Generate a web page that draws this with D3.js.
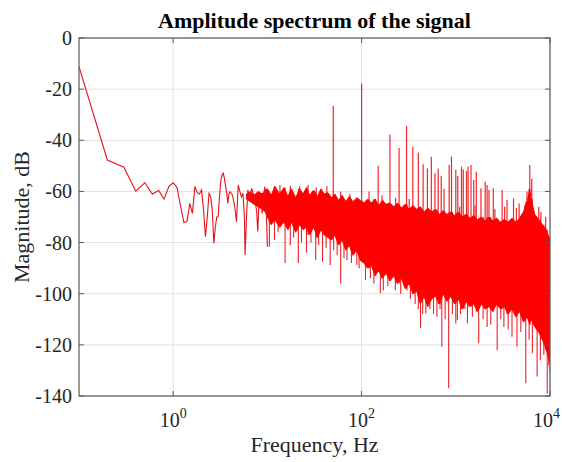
<!DOCTYPE html>
<html><head><meta charset="utf-8">
<script src="https://cdn.jsdelivr.net/npm/d3@7"></script>
<style>
body{margin:0;background:#fff}
svg text{font-family:"Liberation Serif","Times New Roman",serif;fill:#262626}
</style>
</head><body>
<svg id="c" width="562" height="462"></svg>
<script>
// ---------- data ----------
const titleText = "Amplitude spectrum of the signal";
const xLabel = "Frequency, Hz";
const yLabel = "Magnitude, dB";
const xTickValues = [1, 100, 10000];
const xTickExponents = ["0", "2", "4"];
const yTickValues = [0, -20, -40, -60, -80, -100, -120, -140];

// low-frequency part, individual line
const lowFreq = [0.1,0.2,0.3,0.4,0.5,0.6,0.7,0.8,0.9,1.0,1.1,1.2,1.3,1.4,1.5,1.6,1.7,1.8,1.9,2.0,
  2.1,2.2,2.3,2.4,2.5,2.6,2.7,2.8,2.9,3.0,3.1,3.2,3.3,3.4,3.5,3.6,3.7,3.8,3.9,4.0,4.2,4.3,4.5,4.7,4.9,
  5.1,5.3,5.5,5.7,5.8,6.0,6.2,6.5,6.8,7.1,7.4,7.7,7.9,8.1,8.4,8.6,8.8,9.1,9.4,9.7,10];
const lowMag = [-11.2,-47.7,-50.5,-59.9,-56.6,-61,-59.6,-63,-58,-56.6,-58.5,-66,-72.2,-71.8,-64.7,-68.6,-58.1,-60.5,-61,-59.4,
  -67.3,-77.7,-70,-60.7,-62,-67.3,-80.3,-74,-70,-69.9,-62,-56,-53.5,-52.9,-55,-58,-60.7,-64.7,-61,-60.1,-61,-62.1,-66,-71.8,-57.5,
  -60,-62.1,-60.7,-70,-84.9,-70,-59.4,-63.4,-58.8,-61,-63.4,-68,-75.7,-66,-60.7,-64,-68.6,-62,-58.1,-66,-81.6];

// dense noise band: upper and lower edge of the solid region
const bandFreq = [6,6.6,7.2,8,8.8,9.5,10,11,12,13.5,15,16.5,18,20,22,24,26,28,31,34,37,40,44,48,52,57,62,68,74,81,89,97,
  106,116,127,139,152,166,182,200,220,240,265,290,320,350,385,420,460,505,555,610,670,735,805,885,970,
  1065,1170,1285,1410,1550,1700,1870,2050,2250,2470,2710,2980,3270,3590,3940,4330,4750,5220,5730,6100,6300,
  6900,7580,8320,9140,10000];
const bandTop = [-61,-60,-61.5,-60,-61,-59.5,-59,-61.5,-58,-61,-58.5,-62,-59,-62.5,-59,-61,-58.5,-61.5,-59.5,-62,-59,-61,-60.5,-62.5,-61,-63.5,-61.5,-64,-62,-64,-62.5,-63.5,
  -64.5,-63,-64.5,-63,-65.5,-63.5,-65,-64.5,-66,-64.5,-66.5,-65,-67,-65.5,-67,-66,-68,-66.5,-68,-67,-69,-67.5,-69,-68,-69.5,
  -68,-70,-69,-70.5,-69.5,-71,-70,-71.5,-70,-71.5,-70.5,-72,-71,-72,-70.5,-72,-70.5,-68,-64,-59,-63,
  -69,-71,-73,-75,-79];
const bandBottom = [-63,-64,-65,-66,-67,-68,-70,-73,-71,-74,-72,-75,-72,-76,-73,-75,-74,-77,-74,-78,-75,-77,-78,-79,-77,-81,-79,-83,-81,-85,-83,-87,
  -88,-90,-89,-93,-91,-94,-92,-95,-93,-96,-94,-98,-96,-100,-99,-104,-101,-105,-102,-101,-104,-100,-103,-101,-104,
  -102,-106,-103,-105,-104,-107,-104,-106,-105,-107,-104,-106,-105,-108,-106,-109,-107,-111,-109,-112,-110,
  -113,-115,-118,-122,-127];

// harmonic peaks and small hairs rising above the band
const spikeFreq = [13.6,17.5,22,27,33,42.8,50,60,75,100,120,150,165,200,230,250,300,320,350,400,450,500,550,600,650,700,750,850,900,1000,1050,1100,1150,1200,1300,1350,1450,
  1550,1600,1650,1850,2050,2150,2250,2500,2600,3100,3300,3500,4100,4400,4700,5400,5700,6100,6400,7600,8000,9000];
const spikeMag = [-57.5,-57.8,-58,-57.5,-58.5,-58,-26.6,-60,-61,-17.8,-60,-50,-61.5,-37.7,-62.5,-43,-34.4,-63,-42.5,-44.8,-49.4,-51,-46.4,-52.9,-51,-54,-59,-49.7,-46.4,-51.5,-54,-66,-50.3,-51.4,-52,-50.3,-49.7,
  -55.5,-65.5,-52.3,-58.8,-56.2,-57.5,-59.4,-58.8,-67,-59.4,-66,-63.4,-62.7,-66.5,-64.7,-65.3,-60,-49.7,-55,-66,-68,-70];

// deep dips below the band
const dipFreq = [10.5,11.9,13,15.4,17.5,19,21.3,23,26,29,32.6,35,38.5,42,46.4,50.5,55,60,65,70,78,89,94,
  110,124,135,158,170,190,228,260,303,330,370,400,422,445,480,530,580,630,680,710,770,840,920,1000,
  1040,1120,1250,1330,1500,1750,1950,2150,2350,2750,3000,3240,3600,3950,4460,4900,5530,6000,6500,7300,7900,8600,9350,9700,10000];
const dipMag = [-81.6,-79,-76,-88,-81,-78,-88,-80,-84,-80,-86.8,-81,-87.5,-82,-88.8,-83,-85,-96,-86,-86.8,-88,-88.8,-90,
  -94.6,-94,-96,-99.8,-98.6,-97,-98.6,-100,-98.6,-102,-104,-106,-113.5,-108,-107.7,-106,-108,-109,-106,-120.7,-110,-137,-108,-111.6,
  -110.3,-108,-106,-111.6,-109,-119.4,-110,-113,-112,-122,-110,-113,-114,-116.8,-120.7,-115,-135,-118,-123.3,-132.4,-126,-124,-139,-128,-131];

// ---------- drawing ----------
const pLeft = 79, pRight = 550, pTop = 38, pBottom = 396;
const svg = d3.select("#c");
const x = d3.scaleLog().domain([0.1, 10000]).range([pLeft, pRight]);
const y = d3.scaleLinear().domain([-140, 0]).range([pBottom, pTop]);
const red = "#ff0000";

svg.append("defs").append("clipPath").attr("id", "clip")
  .append("rect").attr("x", pLeft).attr("y", pTop).attr("width", pRight - pLeft).attr("height", pBottom - pTop);

// grid
const grid = svg.append("g");
grid.selectAll(".gx").data(xTickValues).enter().append("line")
  .attr("x1", d => x(d)).attr("x2", d => x(d)).attr("y1", pTop).attr("y2", pBottom)
  .attr("stroke", "#e3e3e3").attr("stroke-width", 1);
grid.selectAll(".gy").data(yTickValues).enter().append("line")
  .attr("x1", pLeft).attr("x2", pRight).attr("y1", d => y(d)).attr("y2", d => y(d))
  .attr("stroke", "#e3e3e3").attr("stroke-width", 1);

const plot = svg.append("g").attr("clip-path", "url(#clip)");

function nearestIdx(f) {
  let best = 0, bd = Infinity;
  bandFreq.forEach((b, i) => { const d = Math.abs(Math.log(b) - Math.log(f)); if (d < bd) { bd = d; best = i; } });
  return best;
}

// dips
plot.selectAll(".dip").data(dipFreq).enter().append("line")
  .attr("x1", d => x(d)).attr("x2", d => x(d))
  .attr("y1", d => y(bandTop[nearestIdx(d)]))
  .attr("y2", (d, i) => y(dipMag[i]))
  .attr("stroke", "#e8232a").attr("stroke-width", 1.1);

// spikes
plot.selectAll(".spk").data(spikeFreq).enter().append("line")
  .attr("x1", d => x(d)).attr("x2", d => x(d))
  .attr("y1", d => y(bandBottom[nearestIdx(d)]))
  .attr("y2", (d, i) => y(spikeMag[i]))
  .attr("stroke", "#f0262b").attr("stroke-width", 1.2);

// band
const bandData = bandFreq.map((f, i) => ({ f, t: bandTop[i], b: bandBottom[i] }));
plot.append("path").datum(bandData)
  .attr("d", d3.area().x(d => x(d.f)).y0(d => y(d.b)).y1(d => y(d.t)))
  .attr("fill", red).attr("stroke", red).attr("stroke-width", 1);

// low-frequency line
const lowData = lowFreq.map((f, i) => ({ f, m: lowMag[i] }));
plot.append("path").datum(lowData)
  .attr("d", d3.line().x(d => x(d.f)).y(d => y(d.m)))
  .attr("fill", "none").attr("stroke", "#e8101a").attr("stroke-width", 1.1);

// frame
const axisColor = "#5a5a5a";
svg.append("rect").attr("x", pLeft).attr("y", pTop).attr("width", pRight - pLeft).attr("height", pBottom - pTop)
  .attr("fill", "none").attr("stroke", axisColor).attr("stroke-width", 1.2);

// ticks (inward, all four sides)
const tl = 5;
const tk = svg.append("g").attr("stroke", axisColor).attr("stroke-width", 1);
xTickValues.forEach(v => {
  tk.append("line").attr("x1", x(v)).attr("x2", x(v)).attr("y1", pBottom).attr("y2", pBottom - tl);
  tk.append("line").attr("x1", x(v)).attr("x2", x(v)).attr("y1", pTop).attr("y2", pTop + tl);
});
yTickValues.forEach(v => {
  tk.append("line").attr("x1", pLeft).attr("x2", pLeft + tl).attr("y1", y(v)).attr("y2", y(v));
  tk.append("line").attr("x1", pRight).attr("x2", pRight - tl).attr("y1", y(v)).attr("y2", y(v));
});

// tick labels
svg.selectAll(".yl").data(yTickValues).enter().append("text")
  .attr("x", pLeft - 7).attr("y", d => y(d)).attr("dy", "0.35em")
  .attr("text-anchor", "end").attr("font-size", 20).text(d => d);

xTickValues.forEach((v, i) => {
  const t = svg.append("text").attr("x", x(v)).attr("y", 427).attr("text-anchor", "middle").attr("font-size", 20);
  t.append("tspan").text("10");
  t.append("tspan").attr("dy", -9).attr("font-size", 14).text(xTickExponents[i]);
  const bb = t.node().getBBox();
  if (bb.x + bb.width > 560) t.attr("x", x(v) - (bb.x + bb.width - 560));
});

// axis labels & title
svg.append("text").attr("x", (pLeft + pRight) / 2).attr("y", 452).attr("text-anchor", "middle")
  .attr("font-size", 22).text(xLabel);
svg.append("text").attr("transform", `translate(29,${(pTop + pBottom) / 2}) rotate(-90)`)
  .attr("text-anchor", "middle").attr("font-size", 22).text(yLabel);
svg.append("text").attr("x", (pLeft + pRight) / 2).attr("y", 28).attr("text-anchor", "middle")
  .attr("font-size", 22).attr("font-weight", "bold").style("fill", "#000").text(titleText);
</script>
</body></html>
